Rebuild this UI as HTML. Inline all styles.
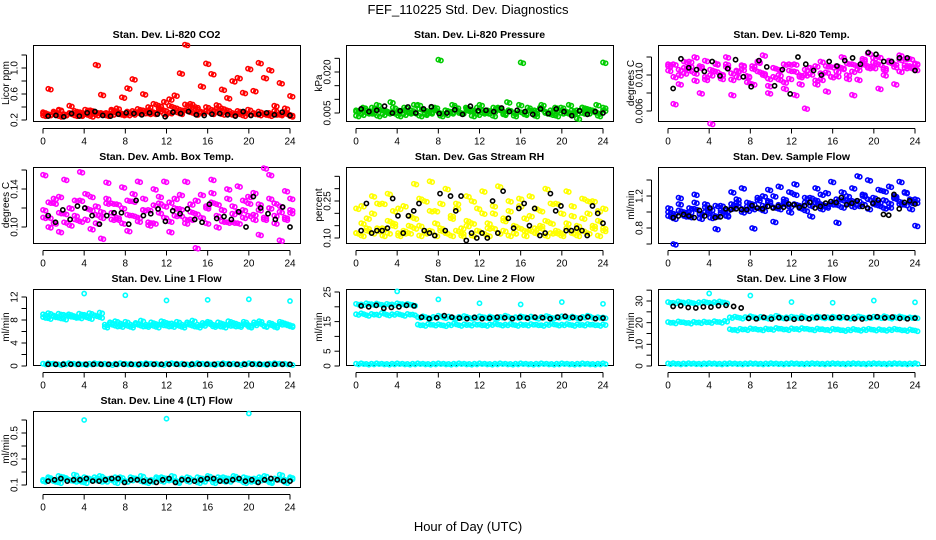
<!DOCTYPE html>
<html><head><meta charset="utf-8">
<style>
html,body{margin:0;padding:0;background:#fff;}
svg{display:block;font-family:"Liberation Sans",sans-serif;}
</style></head>
<body>
<svg id="chart" width="936" height="540" viewBox="0 0 936 540" xmlns="http://www.w3.org/2000/svg">
<rect width="936" height="540" fill="#fff"/>
<text x="468" y="14" font-size="13" text-anchor="middle">FEF_110225  Std. Dev. Diagnostics</text>
<text x="468" y="531" font-size="13" text-anchor="middle">Hour of Day (UTC)</text>
</svg>
<script>
// ---------- data ----------
const xTickLabels = [0,4,8,12,16,20,24];
// P1 CO2
const co2A = [0.32,0.68,0.30,0.35,0.28,0.42,0.31,0.29,0.36,0.33,1.05,0.59,0.30,0.34,0.38,0.55,0.69,0.83,0.32,0.60,0.35,0.30,0.42,0.48,0.52,0.58,0.92,1.36,0.45,0.40,0.72,1.07,0.91,0.38,0.67,0.54,0.80,0.85,0.62,0.99,0.65,1.08,0.85,0.97,0.42,0.77,0.38,0.57];
const co2B = [0.30,0.28,0.33,0.36,0.29,0.31,0.34,0.27,0.30,0.35,0.32,0.29,0.31,0.36,0.33,0.30,0.28,0.34,0.37,0.31,0.40,0.45,0.38,0.35,0.42,0.39,0.36,0.44,0.41,0.37,0.33,0.40,0.36,0.43,0.38,0.35,0.31,0.34,0.32,0.36,0.30,0.33,0.29,0.31,0.34,0.30,0.32,0.28];
const co2C = [0.27,0.29,0.31,0.26,0.28,0.30,0.27,0.32,0.29,0.26,0.28,0.31,0.27,0.29,0.30,0.28,0.33,0.29,0.31,0.35,0.30,0.32,0.34,0.29,0.31,0.33,0.30,0.35,0.32,0.29,0.31,0.34,0.30,0.32,0.29,0.31,0.28,0.30,0.27,0.29,0.31,0.28,0.30,0.27,0.29,0.28,0.30,0.26];
const co2K = [0.26,0.27,0.25,0.30,0.26,0.31,0.33,0.27,0.26,0.29,0.31,0.30,0.28,0.31,0.29,0.25,0.32,0.30,0.33,0.28,0.27,0.29,0.30,0.28,0.26,0.33,0.27,0.29,0.31,0.28,0.32,0.27];
const co2Ticks = [0.2,0.4,0.6,0.8,1.0,1.2];
const co2Labels = ["0.2","0.6","1.0"];
// P2 pressure
const prA = [0.006,0.007,0.005,0.008,0.006,0.009,0.005,0.007,0.006,0.008,0.005,0.007,0.0245,0.006,0.008,0.005,0.007,0.006,0.008,0.005,0.007,0.006,0.009,0.005,0.0235,0.007,0.006,0.008,0.005,0.007,0.006,0.008,0.005,0.007,0.006,0.008,0.0235];
const prB = [0.004,0.006,0.005,0.007,0.004,0.006,0.005,0.007,0.004,0.006,0.005,0.008,0.004,0.006,0.005,0.007,0.004,0.006,0.005,0.007,0.005,0.006,0.004,0.007,0.005,0.006,0.004,0.007,0.005,0.006,0.004,0.008,0.005,0.006,0.004,0.007,0.005,0.006,0.004,0.007,0.005,0.006,0.003,0.007,0.005,0.006,0.004,0.007];
const prC = [0.0055,0.0045,0.006,0.005,0.0065,0.0045,0.0055,0.005,0.006,0.0045,0.0055,0.005,0.0065,0.0045,0.0055,0.006,0.005,0.0045,0.0055,0.006,0.005,0.0065,0.0055,0.0045,0.006,0.005,0.0055,0.0065,0.0045,0.006,0.005,0.0055,0.0045,0.006,0.005,0.0065,0.0055,0.0045,0.006,0.005,0.0055,0.0045,0.006,0.005,0.0065,0.0055,0.005,0.006];
const prK = [0.0065,0.0055,0.006,0.0075,0.005,0.0058,0.0072,0.005,0.0065,0.0073,0.0048,0.005,0.0062,0.0045,0.0075,0.0058,0.006,0.0055,0.0068,0.0055,0.006,0.0055,0.0045,0.0065,0.0048,0.0065,0.0055,0.004,0.0058,0.0045,0.0055,0.005];
const prTicks = [0.005,0.010,0.015,0.020,0.025];
const prLabels = ["0.005","0.020"];
// P3 Li-820 temp
const tmA = [0.0110,0.0068,0.0090,0.0115,0.0105,0.0120,0.0080,0.0095,0.0046,0.0112,0.0100,0.0120,0.0078,0.0105,0.0110,0.0098,0.0090,0.0115,0.0122,0.0080,0.0108,0.0095,0.0085,0.0112,0.0078,0.0100,0.0063,0.0108,0.0090,0.0115,0.0082,0.0098,0.0110,0.0120,0.0100,0.0078,0.0095,0.0112,0.0124,0.0108,0.0085,0.0100,0.0115,0.0090,0.0122,0.0108,0.0118,0.0112];
const tmB = [0.0105,0.0112,0.0100,0.0108,0.0115,0.0102,0.0110,0.0098,0.0106,0.0113,0.0101,0.0109,0.0095,0.0104,0.0111,0.0099,0.0107,0.0114,0.0102,0.0096,0.0108,0.0100,0.0092,0.0105,0.0112,0.0098,0.0106,0.0101,0.0110,0.0095,0.0103,0.0109,0.0099,0.0107,0.0113,0.0104,0.0110,0.0116,0.0108,0.0119,0.0112,0.0106,0.0114,0.0109,0.0117,0.0111,0.0108,0.0113];
const tmC = [0.0112,0.0098,0.0106,0.0102,0.0110,0.0094,0.0108,0.0116,0.0100,0.0104,0.0096,0.0112,0.0102,0.0098,0.0106,0.0092,0.0110,0.0104,0.0100,0.0088,0.0098,0.0106,0.0112,0.0096,0.0104,0.0090,0.0100,0.0108,0.0094,0.0102,0.0110,0.0098,0.0104,0.0108,0.0096,0.0112,0.0106,0.0118,0.0110,0.0114,0.0120,0.0108,0.0116,0.0112,0.0104,0.0118,0.0110,0.0106];
const tmK = [0.0085,0.0118,0.0108,0.0106,0.0104,0.0115,0.0099,0.0107,0.0117,0.0098,0.0087,0.0116,0.0109,0.0088,0.0106,0.0079,0.0120,0.0112,0.0105,0.0100,0.0115,0.0110,0.0116,0.0119,0.0112,0.0125,0.0123,0.0115,0.0115,0.0119,0.0119,0.0105];
const tmTicks = [0.006,0.008,0.010,0.012];
const tmLabels = ["0.006","0.010"];
// P4 ambient box temp
const abA = [0.155,0.100,0.130,0.095,0.150,0.120,0.108,0.158,0.135,0.098,0.113,0.088,0.147,0.125,0.110,0.142,0.096,0.135,0.148,0.118,0.102,0.140,0.125,0.148,0.095,0.130,0.112,0.148,0.108,0.078,0.134,0.122,0.150,0.100,0.118,0.140,0.105,0.143,0.128,0.112,0.136,0.092,0.162,0.155,0.125,0.086,0.138,0.130];
const abB = [0.118,0.110,0.125,0.115,0.105,0.120,0.112,0.128,0.108,0.118,0.122,0.110,0.125,0.115,0.108,0.120,0.113,0.127,0.110,0.118,0.105,0.123,0.115,0.110,0.126,0.112,0.119,0.108,0.124,0.114,0.110,0.120,0.126,0.112,0.118,0.105,0.122,0.116,0.110,0.125,0.113,0.118,0.108,0.120,0.112,0.116,0.110,0.115];
const abC = [0.110,0.126,0.104,0.132,0.114,0.102,0.128,0.106,0.120,0.132,0.104,0.116,0.130,0.108,0.124,0.104,0.128,0.112,0.106,0.130,0.118,0.104,0.132,0.122,0.106,0.120,0.134,0.104,0.116,0.128,0.110,0.104,0.136,0.124,0.106,0.130,0.114,0.104,0.118,0.132,0.108,0.124,0.110,0.130,0.104,0.122,0.108,0.118];
const abK = [0.112,0.105,0.118,0.108,0.122,0.120,0.112,0.103,0.112,0.115,0.115,0.103,0.128,0.112,0.114,0.119,0.106,0.117,0.114,0.119,0.108,0.105,0.124,0.109,0.111,0.108,0.116,0.100,0.132,0.120,0.114,0.108,0.121,0.100];
const abTicks = [0.10,0.12,0.14,0.16];
const abLabels = ["0.10","0.14"];
// P5 gas stream RH
const rhA = [0.12,0.23,0.18,0.27,0.14,0.24,0.28,0.16,0.22,0.12,0.19,0.32,0.15,0.25,0.33,0.21,0.13,0.30,0.18,0.24,0.11,0.27,0.16,0.22,0.29,0.14,0.20,0.31,0.17,0.25,0.12,0.23,0.18,0.27,0.14,0.21,0.30,0.16,0.24,0.12,0.29,0.19,0.15,0.26,0.20,0.25,0.17,0.22];
const rhB = [0.12,0.11,0.14,0.12,0.13,0.11,0.12,0.15,0.11,0.13,0.12,0.14,0.11,0.12,0.13,0.11,0.14,0.12,0.11,0.13,0.12,0.15,0.11,0.13,0.12,0.11,0.14,0.12,0.13,0.11,0.12,0.14,0.11,0.13,0.12,0.15,0.11,0.12,0.13,0.11,0.14,0.12,0.11,0.13,0.12,0.14,0.11,0.13];
const rhC = [0.22,0.16,0.13,0.20,0.24,0.14,0.17,0.21,0.12,0.23,0.15,0.18,0.26,0.13,0.21,0.16,0.24,0.12,0.19,0.22,0.14,0.17,0.25,0.13,0.20,0.16,0.23,0.12,0.18,0.21,0.15,0.26,0.13,0.19,0.22,0.14,0.17,0.24,0.12,0.20,0.16,0.23,0.13,0.18,0.25,0.15,0.21,0.14];
const rhK = [0.13,0.24,0.12,0.13,0.13,0.14,0.26,0.19,0.12,0.19,0.21,0.24,0.13,0.12,0.11,0.28,0.13,0.27,0.21,0.27,0.09,0.12,0.10,0.12,0.10,0.25,0.12,0.29,0.18,0.14,0.22,0.24,0.15,0.22,0.11,0.12,0.28,0.21,0.23,0.13,0.13,0.14,0.13,0.11,0.23,0.20,0.16];
const rhTicks = [0.10,0.15,0.20,0.25,0.30,0.35];
const rhLabels = ["0.10","0.25"];
// P6 sample flow
const sfA = [1.00,0.60,1.18,0.95,1.05,1.22,0.92,1.10,0.98,0.79,1.08,0.95,1.25,1.12,1.30,1.02,0.80,1.15,1.20,1.28,0.88,1.32,1.10,1.25,1.35,1.05,1.18,0.95,1.30,1.22,1.08,1.38,0.87,1.25,1.15,1.30,1.45,1.20,1.40,1.10,1.28,1.05,1.32,1.18,1.38,1.25,1.12,0.83];
const sfB = [0.95,0.98,1.02,0.96,1.00,1.04,0.97,1.00,1.03,0.95,0.99,1.02,1.05,1.08,1.04,1.07,1.10,1.05,1.08,1.12,1.06,1.09,1.13,1.07,1.10,1.05,1.12,1.08,1.15,1.10,1.06,1.13,1.09,1.15,1.11,1.07,1.14,1.10,1.16,1.12,1.08,1.15,1.11,1.17,1.13,1.09,1.16,1.12];
const sfC = [1.05,0.92,1.10,1.00,0.94,1.12,0.98,1.06,0.93,1.08,1.02,0.96,1.10,1.16,1.00,1.12,1.04,1.18,1.02,1.14,1.20,1.04,1.16,1.00,1.22,1.08,1.02,1.18,1.12,1.04,1.24,1.10,1.16,1.06,1.20,1.14,1.08,1.22,1.04,1.18,1.12,1.26,1.06,1.20,1.10,1.24,1.04,1.16];
const sfK = [0.93,0.95,0.97,0.95,0.93,1.02,0.95,1.05,0.93,0.94,1.04,1.03,1.04,1.03,1.03,1.08,1.05,1.04,1.07,1.05,1.07,1.06,1.10,1.09,1.06,1.08,1.12,1.05,1.07,1.11,1.13,1.12,1.18,1.09,1.11,1.14,1.07,1.05,1.11,1.15,0.97,0.96,1.22,1.04,1.12,1.14,1.10];
const sfTicks = [0.6,0.8,1.0,1.2,1.4];
const sfLabels = ["0.8","1.2"];
// P7 line 1 flow
const l1A = [9.0,9.2,8.8,9.1,8.9,9.0,8.7,9.1,8.9,9.2,8.8,9.3,7.2,7.3,7.0,7.4,7.1,7.2,7.3,7.0,7.2,7.1,7.3,7.2,7.0,7.4,7.1,7.2,7.3,7.0,7.2,7.1,7.4,7.2,7.0,7.3,7.1,7.0,7.2,7.3,7.1,7.2,7.4,7.0,7.2,7.1,7.3,7.2,7.1];
const l1B = [8.5,8.3,8.6,8.4,8.2,8.7,8.5,8.4,8.6,8.3,8.8,8.5,6.8,7.6,7.8,6.9,7.7,6.8,7.5,7.9,6.9,7.6,6.8,7.8,7.5,6.9,7.7,6.8,7.6,7.9,6.8,7.5,7.7,6.9,7.6,6.8,7.8,7.5,6.9,7.7,6.8,7.6,7.8,6.9,7.5,6.8,7.7,7.4,6.9];
const l1Z = [0.4,0.5,0.4,0.3,0.4,0.5,0.4,0.4,0.3,0.4,0.5,0.4,0.4,0.3,0.4,0.5,0.4,0.4,0.3,0.4,0.5,0.4,0.4,0.3,0.4,0.5,0.4,0.4,0.3,0.4,0.5,0.4,0.4,0.3,0.4,0.5,0.4,0.4,0.3,0.4,0.5,0.4,0.4,0.3,0.4,0.5,0.4,0.4,0.3];
const l1K = [0.3,0.3,0.3,0.3,0.3,0.3,0.3,0.3,0.3,0.3,0.3,0.3,0.3,0.3,0.3,0.3,0.3,0.3,0.3,0.3,0.3,0.3,0.3,0.3,0.3,0.3,0.3,0.3,0.3,0.3,0.3,0.3,0.3];
const l1OutH = [4,8,12,16,20,24];
const l1OutV = [12.6,12.3,11.4,11.5,11.6,11.3];
const l1Ticks = [0,2,4,6,8,10,12];
const l1Labels = ["0","4","8","12"];
// P8 line 2 flow
const l2A = [21,20.8,21.2,20.9,21.1,20.7,21,20.8,21.2,20.9,21,20.6,16.5,16.8,16.3,16.6,17,16.4,16.7,16.2,16.6,16.9,16.3,16.5,16.8,16.4,16.7,16.2,16.6,17,16.3,16.5,16.8,16.4,16.7,16.2,16.6,16.9,16.3,16.5,16.8,16.4,16.7,16.2,16.6,17,16.3,16.5,16.4];
const l2B = [17.5,17.8,17.2,17.6,17.4,17.9,17.3,17.5,17.7,17.2,17.6,17.4,14,13.8,14.2,13.9,14.1,13.7,14,14.3,13.8,14.1,13.9,14.2,14,13.8,14.1,14.3,13.9,14,14.2,13.8,14.1,13.9,14.2,14,13.8,14.1,14.3,13.9,14,14.2,13.8,14.1,13.9,14.2,14,13.8,14.1];
const l2Z = [0.8,0.9,0.7,0.8,0.9,0.8,0.7,0.8,0.9,0.8,0.7,0.8,0.9,0.8,0.7,0.8,0.9,0.8,0.7,0.8,0.9,0.8,0.7,0.8,0.9,0.8,0.7,0.8,0.9,0.8,0.7,0.8,0.9,0.8,0.7,0.8,0.9,0.8,0.7,0.8,0.9,0.8,0.7,0.8,0.9,0.8,0.7,0.8,0.9];
const l2K = [20.3,20,20.5,19.5,19.8,20,20.5,20.3,16.5,16,16.3,17,16.5,16.2,16,16.4,16,16.2,16.5,16.3,16,16.4,16.2,16.5,16.3,16,16.5,16.8,16.4,16.2,16.6,16,16.2];
const l2OutH = [4,8,12,16,20,24];
const l2OutV = [25.2,22.5,21.2,20.8,21.6,21];
const l2Ticks = [0,5,10,15,20,25];
const l2Labels = ["0","5","15","25"];
// P9 line 3 flow
const l3A = [29.5,29.2,29.8,29.3,29.6,29,29.4,29.7,29.2,29.5,29.8,29.3,22.5,22.8,22.2,22.6,23,22.4,22.7,22.2,22.6,23.2,22.3,22.5,22.8,22.4,23,22.2,22.6,22.9,22.3,22.5,22.8,22.4,22.7,22.2,22.6,22.9,22.3,22.5,22.8,22.4,23,22.2,22.6,22.9,22.3,22.5,22.4];
const l3B = [20.3,20,20.6,20.2,19.9,20.4,20.1,20.5,20.2,20.7,20.3,20.8,17,16.7,17.2,16.9,17.4,17.1,16.8,17.3,17,17.6,17.2,16.9,17.4,17.1,17.5,17.2,16.8,17.3,17,16.7,17.2,16.9,16.5,16.8,17.1,16.6,16.9,17.2,16.7,17,16.6,16.9,17.2,16.8,16.5,16.9,16.4];
const l3Z = [1.2,1.3,1.1,1.2,1.3,1.2,1.1,1.2,1.3,1.2,1.1,1.2,1.3,1.2,1.1,1.2,1.3,1.2,1.1,1.2,1.3,1.2,1.1,1.2,1.3,1.2,1.1,1.2,1.3,1.2,1.1,1.2,1.3,1.2,1.1,1.2,1.3,1.2,1.1,1.2,1.3,1.2,1.1,1.2,1.3,1.2,1.1,1.2,1.3];
const l3K = [27.5,27.8,27,26.8,27.3,27.2,27.8,28,27.5,26.8,22,21.8,22.5,21.7,22.3,21.9,21.6,22,21.8,22.3,22.6,22.1,22.5,22.3,21.9,21.7,22.4,22.7,22.2,22.6,22,21.8,22.1];
const l3OutH = [4,8,12,16,20,24];
const l3OutV = [33.5,32.5,29.5,29.2,30.2,29.4];
const l3Ticks = [0,5,10,15,20,25,30,35];
const l3Labels = ["0","10","20","30"];
// P10 line 4 (LT) flow
const l4A = [0.14,0.16,0.13,0.17,0.15,0.14,0.18,0.13,0.16,0.15,0.14,0.17,0.13,0.15,0.16,0.14,0.13,0.16,0.15,0.17,0.14,0.13,0.15,0.16,0.14,0.17,0.13,0.15,0.16,0.14,0.12,0.15,0.17,0.14,0.16,0.13,0.15,0.17,0.14,0.16,0.13,0.15,0.14,0.17,0.12,0.15,0.18,0.14,0.16];
const l4B = [0.13,0.15,0.14,0.12,0.16,0.14,0.13,0.15,0.12,0.14,0.16,0.13,0.15,0.14,0.12,0.16,0.13,0.14,0.15,0.13,0.12,0.14,0.16,0.13,0.15,0.14,0.12,0.15,0.13,0.14,0.16,0.13,0.15,0.12,0.14,0.16,0.13,0.15,0.14,0.12,0.15,0.13,0.16,0.14,0.13,0.15,0.14,0.12,0.15];
const l4K = [0.13,0.14,0.15,0.13,0.14,0.14,0.15,0.13,0.13,0.14,0.15,0.15,0.12,0.14,0.14,0.13,0.13,0.12,0.14,0.15,0.12,0.14,0.14,0.13,0.14,0.15,0.15,0.13,0.13,0.14,0.15,0.13,0.14,0.12,0.14,0.15,0.14,0.13,0.13];
const l4OutH = [4,12,20];
const l4OutV = [0.60,0.61,0.65];
const l4Ticks = [0.1,0.2,0.3,0.4,0.5,0.6];
const l4Labels = ["0.1","0.3","0.5"];

// ---------- layout ----------
const NS = "http://www.w3.org/2000/svg";
const svg = document.getElementById('chart');
const colX = [33, 346, 658];
const rowY = [45, 167, 289, 411];
const BOXW = 267, BOXH = 76;

function mk(tag, attrs, parent) {
  const e = document.createElementNS(NS, tag);
  for (const k in attrs) e.setAttribute(k, attrs[k]);
  (parent || svg).appendChild(e);
  return e;
}

const panels = [
  {title:"Stan. Dev. Li-820 CO2", ylab:"Licor ppm", col:0,row:0, cal:[0.2,120,1.0,68], ticks:co2Ticks, labels:co2Labels, color:"#ff0000", series:[co2C,co2B,co2A], black:co2K},
  {title:"Stan. Dev. Li-820 Pressure", ylab:"kPa", col:1,row:0, cal:[0.005,113,0.020,72], ticks:prTicks, labels:prLabels, color:"#00cc00", series:[prB,prC,prA], black:prK},
  {title:"Stan. Dev. Li-820 Temp.", ylab:"degrees C", col:2,row:0, cal:[0.006,111,0.010,75], ticks:tmTicks, labels:tmLabels, color:"#ff00ff", series:[tmA,tmB,tmC], black:tmK},
  {title:"Stan. Dev. Amb. Box Temp.", ylab:"degrees C", col:0,row:1, cal:[0.10,227,0.14,189], ticks:abTicks, labels:abLabels, color:"#ff00ff", series:[abA,abB,abC], black:abK},
  {title:"Stan. Dev. Gas Stream RH", ylab:"percent", col:1,row:1, cal:[0.10,238,0.25,201], ticks:rhTicks, labels:rhLabels, color:"#ffff00", series:[rhA,rhB,rhC], black:rhK},
  {title:"Stan. Dev. Sample Flow", ylab:"ml/min", col:2,row:1, cal:[0.8,228,1.2,196], ticks:sfTicks, labels:sfLabels, color:"#0000ff", series:[sfA,sfB,sfC], black:sfK},
  {title:"Stan. Dev. Line 1 Flow", ylab:"ml/min", col:0,row:2, cal:[0,366,12,297], ticks:l1Ticks, labels:l1Labels, color:"#00ffff", series:[l1A,l1B,l1Z], black:l1K, outH:l1OutH, outV:l1OutV},
  {title:"Stan. Dev. Line 2 Flow", ylab:"ml/min", col:1,row:2, cal:[0,366,25,292], ticks:l2Ticks, labels:l2Labels, color:"#00ffff", series:[l2A,l2B,l2Z], black:l2K, outH:l2OutH, outV:l2OutV},
  {title:"Stan. Dev. Line 3 Flow", ylab:"ml/min", col:2,row:2, cal:[0,366,30,301], ticks:l3Ticks, labels:l3Labels, color:"#00ffff", series:[l3A,l3B,l3Z], black:l3K, outH:l3OutH, outV:l3OutV},
  {title:"Stan. Dev. Line 4 (LT) Flow", ylab:"ml/min", col:0,row:3, cal:[0.1,485,0.5,433], ticks:l4Ticks, labels:l4Labels, color:"#00ffff", series:[l4A,l4B], black:l4K, outH:l4OutH, outV:l4OutV}
];

panels.forEach((p, pi) => {
  const bx = colX[p.col], by = rowY[p.row];
  const g = mk('g', {});
  
  
  const x0 = bx + 10, x24 = bx + 257;
  const sx = h => x0 + h / 24 * (x24 - x0);
  const [v1, y1, v2, y2] = p.cal;
  const sy = v => y1 + (v - v1) * (y2 - y1) / (v2 - v1);

  const t = mk('text', {x: bx + BOXW/2, y: by - 7, 'font-size': 10.5, 'font-weight': 'bold', 'text-anchor': 'middle'}, g);
  
  
  t.textContent = p.title;

  const box = mk('rect', {x: bx+0.5, y: by+0.5, width: BOXW, height: BOXH, fill: 'none', stroke: '#000', 'stroke-width': 1}, g);
  
  

  const xa = mk('g', {}, g);
  
  
  const bot = by + BOXH + 0.5;
  mk('line', {x1: sx(0), x2: sx(24), y1: bot + 7, y2: bot + 7, stroke: '#000'}, xa);
  xTickLabels.forEach(h => {
    mk('line', {x1: sx(h), x2: sx(h), y1: bot + 7, y2: bot + 12, stroke: '#000'}, xa);
    const tl = mk('text', {x: sx(h), y: bot + 23, 'font-size': 10, 'text-anchor': 'middle'}, xa);
    
    
    tl.textContent = h;
  });

  const ya = mk('g', {}, g);
  
  
  const ax = bx - 6.5;
  const tys = p.ticks.map(sy);
  mk('line', {x1: ax, x2: ax, y1: Math.min(...tys), y2: Math.max(...tys), stroke: '#000'}, ya);
  p.ticks.forEach(v => {
    mk('line', {x1: ax - 5, x2: ax, y1: sy(v), y2: sy(v), stroke: '#000'}, ya);
  });
  p.labels.forEach(v => {
    const yy = sy(+v);
    const tl = mk('text', {x: 0, y: 0, 'font-size': 10, 'text-anchor': 'middle', transform: `translate(${ax - 9},${yy}) rotate(-90)`}, ya);
    
    
    tl.textContent = v;
  });
  const yl = mk('text', {x: 0, y: 0, 'font-size': 10, 'text-anchor': 'middle', transform: `translate(${bx - 24},${by + BOXH/2}) rotate(-90)`}, ya);
  
  
  yl.textContent = p.ylab;

  const pts = mk('g', {fill: 'none', 'stroke-width': 1.6}, g);
  
  
  // each colored reading drawn as a small cluster glyph (two overlapping rings) to mimic dense sampling
  const dot = (h, v, color, wide) => {
    const cx = sx(h), cy = sy(v);
    const c = mk('circle', {cx: cx, cy: cy, r: 2.1, stroke: color}, pts);
    
    
    if (wide) {
      const c2 = mk('circle', {cx: cx + 2.6, cy: cy + 0.8, r: 2.1, stroke: color}, pts);
      
      
    }
  };
  p.series.forEach(arr => {
    arr.forEach((v, i) => dot(i * 24 / (arr.length - 1), v, p.color, true));
  });
  if (p.outH) p.outH.forEach((h, i) => dot(h, p.outV[i], p.color, false));
  const k = p.black;
  k.forEach((v, i) => dot(0.5 + i * 23.5 / (k.length - 1), v, '#000', false));
});
</script>
</body></html>
